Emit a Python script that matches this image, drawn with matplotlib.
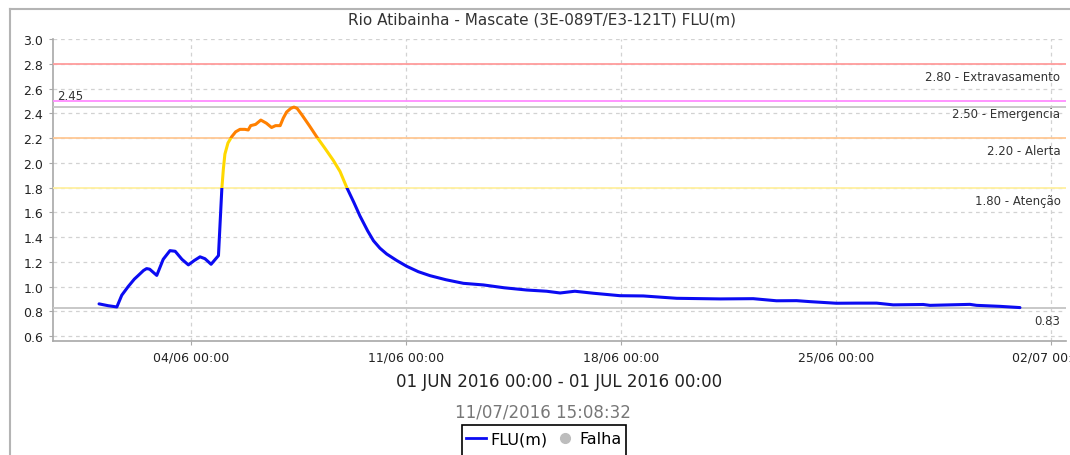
import matplotlib
matplotlib.use('Agg')
import matplotlib.pyplot as plt
import matplotlib.dates as mdates
from matplotlib.patches import Rectangle
from matplotlib.lines import Line2D
from matplotlib.ticker import MultipleLocator, FormatStrFormatter, FixedLocator
import pandas as pd

# days after 01/06/2016 00:00
days = [0.0, 0.3, 0.58, 0.74, 0.95, 1.15, 1.28, 1.45, 1.55, 1.65, 1.88, 2.09, 2.31,
        2.48, 2.7, 2.91, 3.1, 3.29, 3.45, 3.65, 3.89, 4.0, 4.05, 4.1, 4.2, 4.32, 4.45,
        4.59, 4.75, 4.86, 4.94, 5.1, 5.27, 5.45, 5.62, 5.75, 5.9, 6.0, 6.11, 6.25, 6.35,
        6.45, 6.6, 6.85, 7.09, 7.35, 7.63, 7.85, 8.07, 8.3, 8.5, 8.75, 8.94, 9.15, 9.37,
        9.7, 10.02, 10.4, 10.78, 11.3, 11.87, 12.52, 13.2, 13.93, 14.58, 15.02, 15.5,
        16.1, 16.97, 17.73, 18.82, 20.23, 21.31, 22.07, 22.72, 23.16, 24.02, 24.68,
        25.33, 25.87, 26.85, 27.07, 28.37, 28.59, 29.35, 30.0]
level = [0.86, 0.845, 0.835, 0.93, 1.0, 1.06, 1.09, 1.13, 1.145, 1.14, 1.09, 1.22, 1.29,
         1.285, 1.22, 1.175, 1.21, 1.24, 1.225, 1.18, 1.25, 1.79, 1.95, 2.07, 2.16, 2.21, 2.25,
         2.27, 2.27, 2.265, 2.30, 2.31, 2.345, 2.32, 2.285, 2.30, 2.30, 2.36, 2.41, 2.44, 2.45,
         2.44, 2.39, 2.30, 2.21, 2.12, 2.02, 1.93, 1.80, 1.68, 1.57, 1.45, 1.37, 1.31, 1.263,
         1.21, 1.164, 1.12, 1.088, 1.055, 1.026, 1.013, 0.99, 0.972, 0.962, 0.948, 0.962,
         0.946, 0.926, 0.924, 0.905, 0.90, 0.902, 0.885, 0.886, 0.878, 0.865, 0.866,
         0.866, 0.852, 0.855, 0.848, 0.856, 0.848, 0.84, 0.83]

tick_dates = ['2016-06-04', '2016-06-11', '2016-06-18', '2016-06-25', '2016-07-02']

threshold_values = [2.80, 2.50, 2.20, 1.80]
threshold_names = ['Extravasamento', 'Emergencia', 'Alerta', 'Atenção']
threshold_colors = ['#ff9c9c', '#ff8cff', '#ffc894', '#fff0a0']
max_level = 2.45
last_level = 0.83

title = 'Rio Atibainha - Mascate (3E-089T/E3-121T) FLU(m)'
period = '01 JUN 2016 00:00 - 01 JUL 2016 00:00'
stamp = '11/07/2016 15:08:32'

start = pd.Timestamp('2016-06-01 00:00')
times = start + pd.to_timedelta(days, unit='D')

W, H = 1070, 456
fig = plt.figure(figsize=(W / 100, H / 100), dpi=100)
ax = fig.add_axes([53 / W, 1 - 342 / H, (1066 - 53) / W, (342 - 40) / H])

# line coloured by band: draw it once per band, clipped to that band
bands = [(-10, 1.80, '#0b0bf2'), (1.80, 2.20, '#ffd800'), (2.20, 2.50, '#ff8000'),
         (2.50, 2.80, '#ff00ff'), (2.80, 10, '#ff0000')]
for lo, hi, c in bands:
    ln, = ax.plot(times, level, color=c, lw=2.2, solid_capstyle='round',
                  solid_joinstyle='round', zorder=5)
    clip = Rectangle((0, lo), 1, hi - lo, transform=ax.get_yaxis_transform())
    ln.set_clip_path(clip)

for v, name, c in zip(threshold_values, threshold_names, threshold_colors):
    ax.axhline(v, color=c, lw=1.3, zorder=3)
    ax.annotate(f'{v:.2f} - {name}', xy=(1, v), xycoords=('axes fraction', 'data'),
                xytext=(-4, -4.5), textcoords='offset points', ha='right', va='top',
                fontsize=8.5, color='#333333')

ax.axhline(max_level, color='#c8c8c8', lw=1.4, zorder=3)
ax.annotate(f'{max_level:.2f}', xy=(0, max_level), xycoords=('axes fraction', 'data'),
            xytext=(3, 4), textcoords='offset points', ha='left', va='bottom',
            fontsize=8.5, color='#333333')
ax.axhline(last_level, color='#c8c8c8', lw=1.4, zorder=3)
ax.annotate(f'{last_level:.2f}', xy=(1, last_level), xycoords=('axes fraction', 'data'),
            xytext=(-4, -4.5), textcoords='offset points', ha='right', va='top',
            fontsize=8.5, color='#333333')

ax.set_xlim(pd.Timestamp('2016-05-30 12:00'), pd.Timestamp('2016-07-02 12:00'))
ax.set_ylim(0.56, 3.0)
ax.yaxis.set_major_locator(MultipleLocator(0.2))
ax.yaxis.set_major_formatter(FormatStrFormatter('%.1f'))
ax.xaxis.set_major_locator(FixedLocator(mdates.date2num(pd.to_datetime(tick_dates))))
ax.xaxis.set_major_formatter(mdates.DateFormatter('%d/%m %H:%M'))

ax.grid(True, color='#d2d2d2', linestyle=(0, (3, 3)), lw=0.9)
ax.set_axisbelow(True)
for s in ['top', 'right']:
    ax.spines[s].set_visible(False)
for s in ['left', 'bottom']:
    ax.spines[s].set_color('#a8a8a8')
    ax.spines[s].set_linewidth(1.2)
ax.tick_params(length=3, color='#a8a8a8', labelsize=9, labelcolor='#222222', pad=4)

# outer panel border
fig.add_artist(Line2D([10 / W, 1], [1 - 10 / H, 1 - 10 / H], transform=fig.transFigure,
                      color='#b4b4b4', lw=1.5))
fig.add_artist(Line2D([10 / W, 10 / W], [0, 1 - 10 / H], transform=fig.transFigure,
                      color='#b4b4b4', lw=1.5))

fig.text(542 / W, 1 - 20 / H, title, ha='center', va='center', fontsize=11, color='#333333')
fig.text(559 / W, 1 - 382 / H, period, ha='center', va='center', fontsize=12, color='#222222')
fig.text(543 / W, 1 - 413 / H, stamp, ha='center', va='center', fontsize=12, color='#777777')

# legend box runs off the bottom edge, as in the original
fig.add_artist(Rectangle((462 / W, -0.05), (626 - 462) / W, 0.05 + 1 - 426 / H,
                         transform=fig.transFigure, fill=False, edgecolor='#000000', lw=1.2))
handles = [Line2D([], [], color='#0b0bf2', lw=2),
           Line2D([], [], color='#bdbdbd', marker='o', ls='none', markersize=7)]
fig.legend(handles, ['FLU(m)', 'Falha'], loc='center',
           bbox_to_anchor=(544 / W, 1 - 440 / H), ncol=2, frameon=False,
           fontsize=11.5, handlelength=1.2, handletextpad=0.3, columnspacing=0.5,
           borderpad=0.2, borderaxespad=0)

fig.savefig('out.png', dpi=100)
